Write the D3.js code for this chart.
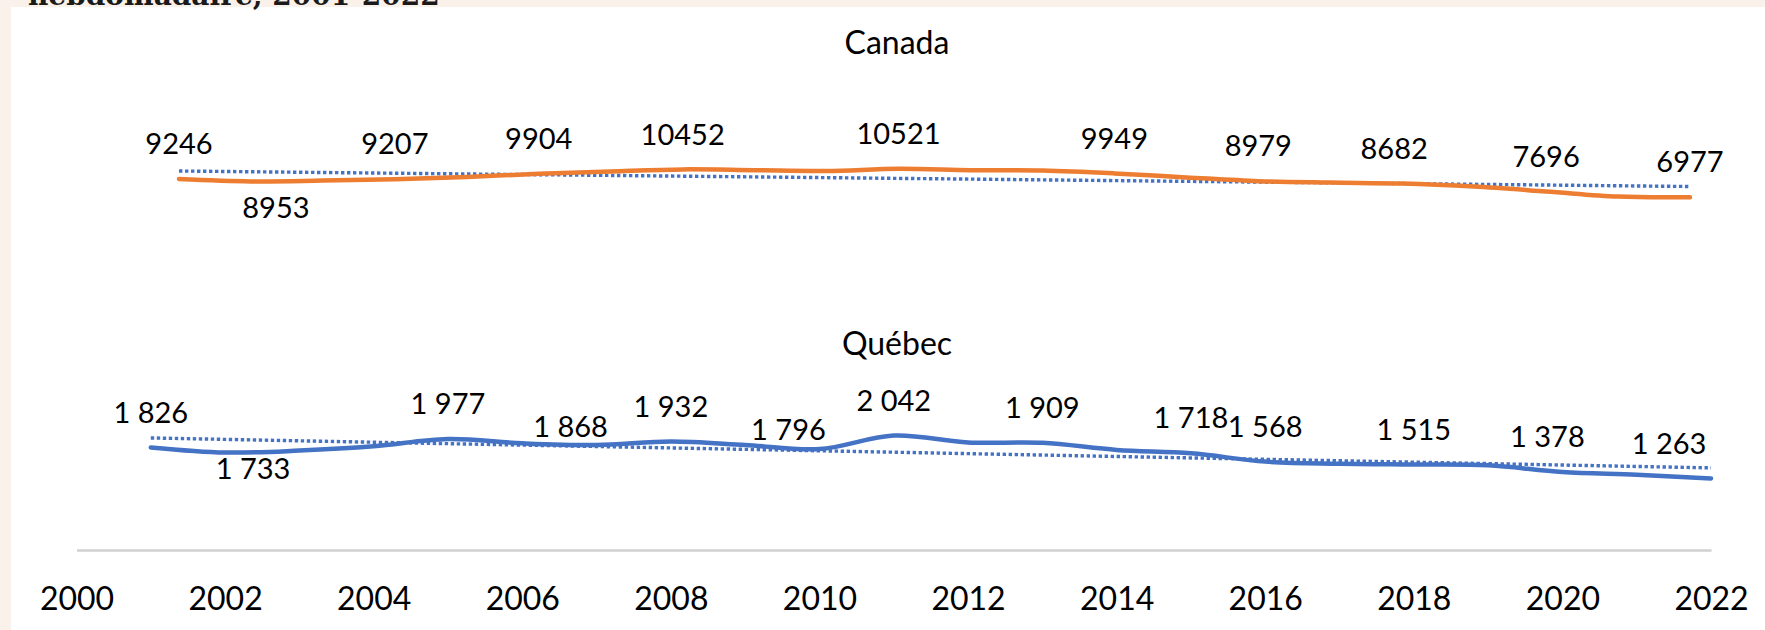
<!DOCTYPE html>
<html lang="fr">
<head>
<meta charset="utf-8">
<title>Canada et Québec, 2001-2022</title>
<script src="https://cdn.jsdelivr.net/npm/d3@7"></script>
<style>
  body { margin: 0; background: #fff; }
  text { font-family: Lato, "Noto Sans", sans-serif; fill: #000; }
</style>
</head>
<body>
<script>
// chart size
var w = 1765, h = 630;

// data
var years = [2001, 2002, 2003, 2004, 2005, 2006, 2007, 2008, 2009, 2010, 2011,
             2012, 2013, 2014, 2015, 2016, 2017, 2018, 2019, 2020, 2021, 2022];
var canada = [9246, 8953, 9050, 9207, 9500, 9904, 10200, 10452, 10350, 10250, 10521,
              10350, 10300, 9949, 9450, 8979, 8800, 8682, 8300, 7696, 7050, 6977];
var quebec = [1826, 1733, 1768, 1845, 1977, 1900, 1868, 1932, 1870, 1796, 2042,
              1915, 1909, 1780, 1718, 1568, 1530, 1515, 1500, 1378, 1330, 1263];
var canadaLabelYears = [2001, 2002, 2004, 2006, 2008, 2011, 2014, 2016, 2018, 2020, 2022];
var quebecLabelYears = [2001, 2002, 2005, 2007, 2008, 2010, 2011, 2013, 2015, 2016, 2018, 2020, 2022];
var xTicks = [2000, 2002, 2004, 2006, 2008, 2010, 2012, 2014, 2016, 2018, 2020, 2022];
var titleText = "hebdomadaire, 2001-2022";

// label placement tweaks (px), default is centred above the point
var canadaNudge = { 2002: [25, 61], 2018: [-8, 0] };
var quebecNudge = { 2002: [28, 51], 2007: [-26, 17], 2010: [-31, 16], 2020: [-15, 0], 2022: [-42, 0] };

var svg = d3.select("body").append("svg")
    .attr("width", w)
    .attr("height", h);

// beige frame bits left over from the page
svg.append("rect").attr("x", 0).attr("y", 0).attr("width", w).attr("height", 7).attr("fill", "#fbf1eb");
svg.append("rect").attr("x", 0).attr("y", 0).attr("width", 11).attr("height", h).attr("fill", "#fbf1eb");
svg.append("text")
    .attr("x", 28).attr("y", 5)
    .style("font-family", "'DejaVu Serif', serif")
    .style("font-weight", "bold")
    .style("font-size", "28px")
    .style("fill", "#1a1a1a")
    .text(titleText);

// scales: the two series sit in separate plot areas
var x = d3.scaleLinear().domain([2000, 2022]).range([76.5, 1711]);
var xCa = d3.scaleLinear().domain([2001, 2022]).range([179, 1690]);
var yCa = d3.scaleLinear().domain([0, 25000]).range([253, 53]);
var yQc = d3.scaleLinear().domain([0, 5000]).range([548, 272.5]);

var fmtQc = d3.formatLocale({ decimal: ",", thousands: " ", grouping: [3], currency: ["", " $"] }).format(",d");

// x axis
var axis = svg.append("g")
    .attr("transform", "translate(0,550)")
    .call(d3.axisBottom(x).tickValues(xTicks).tickFormat(d3.format("d")).tickSize(0).tickPadding(37));
axis.select(".domain").attr("stroke", "#d0d0d0").attr("stroke-width", 2.5);
axis.selectAll("text").style("font-size", "32px").style("font-family", "Lato, sans-serif").attr("fill", "#000");

// panel titles
svg.append("text").attr("x", 897).attr("y", 43).attr("dy", "0.35em")
    .attr("text-anchor", "middle").style("font-size", "32px").text("Canada");
svg.append("text").attr("x", 897).attr("y", 344).attr("dy", "0.35em")
    .attr("text-anchor", "middle").style("font-size", "32px").text("Québec");

function trend(vals) {
  var n = vals.length;
  var mx = d3.mean(years), my = d3.mean(vals);
  var num = d3.sum(years, function(d, i) { return (d - mx) * (vals[i] - my); });
  var den = d3.sum(years, function(d) { return (d - mx) * (d - mx); });
  var b = num / den;
  var a = my - b * mx;
  return [years[0], years[n - 1]].map(function(yr) { return [yr, a + b * yr]; });
}

function drawSeries(vals, xs, ys, color, labelYears, nudge, fmt) {
  var pts = years.map(function(yr, i) { return [yr, vals[i]]; });

  // linear trend, dotted
  svg.append("path")
      .datum(trend(vals))
      .attr("fill", "none")
      .attr("stroke", "#4472c4")
      .attr("stroke-width", 3.4)
      .attr("stroke-dasharray", "3.4 2.6")
      .attr("d", d3.line().x(function(d) { return xs(d[0]); }).y(function(d) { return ys(d[1]); }));

  svg.append("path")
      .datum(pts)
      .attr("fill", "none")
      .attr("stroke", color)
      .attr("stroke-width", 4.5)
      .attr("stroke-linecap", "round")
      .attr("d", d3.line()
          .curve(d3.curveCatmullRom.alpha(0.5))
          .x(function(d) { return xs(d[0]); })
          .y(function(d) { return ys(d[1]); }));

  svg.append("g").selectAll("text")
      .data(pts.filter(function(d) { return labelYears.indexOf(d[0]) >= 0; }))
      .enter()
      .append("text")
      .attr("text-anchor", "middle")
      .attr("dy", "0.35em")
      .style("font-size", "29px")
      .attr("x", function(d) { return xs(d[0]) + (nudge[d[0]] ? nudge[d[0]][0] : 0); })
      .attr("y", function(d) { return ys(d[1]) - 35 + (nudge[d[0]] ? nudge[d[0]][1] : 0); })
      .text(function(d) { return fmt(d[1]); });
}

drawSeries(canada, xCa, yCa, "#ed7d31", canadaLabelYears, canadaNudge, d3.format("d"));
drawSeries(quebec, x, yQc, "#4472c4", quebecLabelYears, quebecNudge, fmtQc);
</script>
</body>
</html>
